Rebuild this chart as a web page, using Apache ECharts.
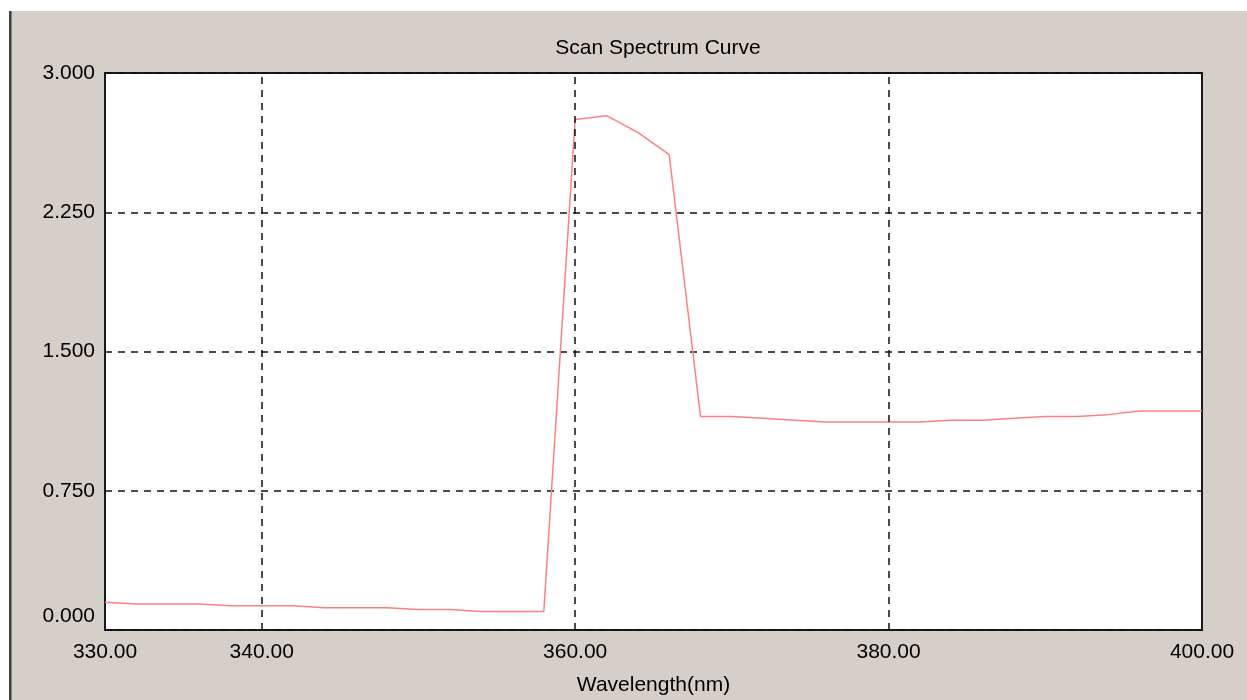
<!DOCTYPE html>
<html>
<head>
<meta charset="utf-8">
<title>Scan Spectrum Curve</title>
<script src="https://cdn.jsdelivr.net/npm/echarts@6/dist/echarts.min.js"></script>
<style>
	html, body { margin: 0; padding: 0; background: #fff; }
	#panel {
		position: absolute; left: 9px; top: 11px; right: 0; bottom: 0;
		background: #d4d0c8;
		border-left: 2px solid #404040;
		box-shadow: inset 1px 0 0 #808080;
	}
	#main { position: absolute; left: 0; top: 0; width: 1247px; height: 700px; }
</style>
</head>
<body>
<div id="panel"></div>
<div id="main"></div>
<script>
// wavelength (nm), every 2 nm
var wavelengths = [330, 332, 334, 336, 338, 340, 342, 344, 346, 348, 350, 352, 354, 356, 358,
	360, 362, 364, 366, 368, 370, 372, 374, 376, 378, 380, 382, 384, 386, 388, 390, 392, 394, 396, 398, 400];
// absorbance
var absorbance = [0.15, 0.14, 0.14, 0.14, 0.13, 0.13, 0.13, 0.12, 0.12, 0.12, 0.11, 0.11, 0.10, 0.10, 0.10,
	2.75, 2.77, 2.68, 2.56, 1.15, 1.15, 1.14, 1.13, 1.12, 1.12, 1.12, 1.12, 1.13, 1.13, 1.14, 1.15, 1.15, 1.16, 1.18, 1.18, 1.18];
var xTickLabels = [330, 340, 360, 380, 400];
var xGridLines = [340, 360, 380];

var myChart = echarts.init(document.getElementById('main'));

var points = [];
for (var i = 0; i < wavelengths.length; i++) {
	points.push([wavelengths[i], absorbance[i]]);
}
var vLines = [];
for (var j = 0; j < xGridLines.length; j++) {
	vLines.push({ xAxis: xGridLines[j] });
}

var font = '"Liberation Sans", Arial, sans-serif';

var option = {
	animation: false,
	backgroundColor: 'transparent',
	textStyle: { fontFamily: font },
	title: {
		text: 'Scan Spectrum Curve',
		left: 653,
		top: 33,
		textAlign: 'center',
		textStyle: { fontFamily: font, fontSize: 21, fontWeight: 'normal', color: '#000' }
	},
	grid: {
		left: 105,
		right: 45,
		top: 73,
		bottom: 70,
		outerBoundsMode: 'none',
		containLabel: false,
		show: true,
		backgroundColor: '#fff',
		borderColor: '#1a1a1a',
		borderWidth: 2
	},
	xAxis: {
		type: 'value',
		min: 330,
		max: 400,
		interval: 10,
		name: 'Wavelength(nm)',
		nameLocation: 'middle',
		nameGap: 45,
		nameTextStyle: { fontFamily: font, fontSize: 21, color: '#000' },
		axisLine: { show: false },
		axisTick: { show: false },
		splitLine: { show: false },
		axisLabel: {
			fontFamily: font,
			fontSize: 21,
			color: '#000',
			margin: 12,
			showMinLabel: true,
			showMaxLabel: true,
			formatter: function (v) {
				return xTickLabels.indexOf(v) >= 0 ? v.toFixed(2) : '';
			}
		}
	},
	yAxis: {
		type: 'value',
		min: 0,
		max: 3,
		interval: 0.75,
		axisLine: { show: false },
		axisTick: { show: false },
		splitLine: {
			show: true,
			lineStyle: { color: '#111', width: 1.5, type: [7, 6] }
		},
		axisLabel: {
			fontFamily: font,
			fontSize: 21,
			color: '#000',
			margin: 10,
			formatter: function (v) {
				return v === 0 ? '{low|0.000}' : v.toFixed(3);
			},
			rich: {
				low: { fontFamily: font, fontSize: 21, color: '#000', padding: [0, 0, 28, 0] }
			}
		}
	},
	series: [{
		type: 'line',
		data: points,
		symbol: 'none',
		lineStyle: { color: '#ff7f7f', width: 1.5 },
		markLine: {
			silent: true,
			symbol: ['none', 'none'],
			label: { show: false },
			lineStyle: { color: '#111', width: 1.5, type: [7, 6] },
			data: vLines
		}
	}]
};

myChart.setOption(option);
</script>
</body>
</html>
